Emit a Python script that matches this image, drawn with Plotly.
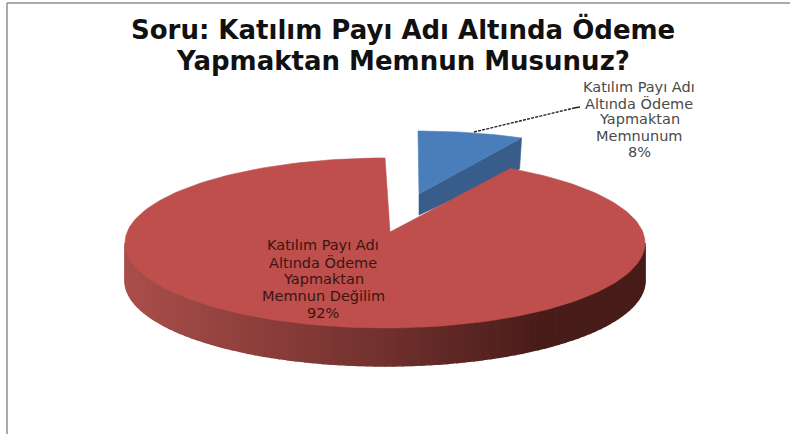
import math
import plotly.graph_objects as go

title_lines = ["Soru: Katılım Payı Adı Altında Ödeme", "Yapmaktan Memnun Musunuz?"]
categories = ["Katılım Payı Adı Altında Ödeme Yapmaktan Memnunum",
              "Katılım Payı Adı Altında Ödeme Yapmaktan Memnun Değilim"]
values = [8, 92]
label_lines_a = ["Katılım Payı Adı", "Altında Ödeme", "Yapmaktan", "Memnunum"]
label_lines_b = ["Katılım Payı Adı", "Altında Ödeme", "Yapmaktan", "Memnun Değilim"]

total = sum(values)
split = 360.0 * values[0] / total

W, H = 790, 434
fig = go.Figure()


def arc(cx, cy, rx, ry, a0, a1, n=160, dy=0):
    pts = []
    for i in range(n + 1):
        t = math.radians(a0 + (a1 - a0) * i / n)
        pts.append((cx + rx * math.sin(t), cy - ry * math.cos(t) + dy))
    return pts


def poly(pts, color, lw=0.6):
    fig.add_trace(go.Scatter(
        x=[p[0] for p in pts] + [pts[0][0]], y=[p[1] for p in pts] + [pts[0][1]],
        mode="lines", fill="toself", fillcolor=color,
        line=dict(color=color, width=lw), hoverinfo="skip", showlegend=False))


def mix(c0, c1, f):
    return "rgb(%d,%d,%d)" % tuple(round(a + (b - a) * f) for a, b in zip(c0, c1))


# small slice
B = dict(cx=418, cy=187, rx=215, ry=56)
B_apex = (419, 194)
B_depth = 31
B_end = arc(**B, a0=split, a1=split, n=1)[0]
poly([B_apex, B_end, (B_end[0] - 2, B_end[1] + B_depth), (B_apex[0], B_apex[1] + 21)], "#385D8A")
poly([B_apex] + arc(**B, a0=0, a1=split, n=30), "#4A7EBB")

# big slice: outer wall with a horizontal shade
R = dict(cx=385, cy=243, rx=260, ry=85)
R_apex = (390, 232)
R_depth = 38
wall_dark = (72, 28, 25)
wall_mid = (112, 48, 45)
wall_light = (170, 78, 75)
steps = 90
for i in range(steps):
    a0 = 90 + 180 * i / steps
    a1 = 90 + 180 * (i + 1) / steps
    top = arc(**R, a0=a0, a1=a1, n=3)
    bot = arc(**R, a0=a1, a1=a0, n=3, dy=R_depth)
    f = (top[0][0] + top[-1][0]) / 2
    f = (f - R["cx"] + R["rx"]) / (2 * R["rx"])
    col = mix(wall_light, wall_mid, f / 0.5) if f < 0.5 else mix(wall_mid, wall_dark, min(1, (f - 0.5) / 0.3))
    poly(top + bot, col, lw=1.4)

poly([R_apex] + arc(**R, a0=split, a1=360, n=240), "#BE4F4C")

# leader line
fig.add_trace(go.Scatter(x=[474, 574], y=[132, 108], mode="lines",
                         line=dict(color="#222222", width=1.4, dash="3px,1.2px"),
                         hoverinfo="skip", showlegend=False))
fig.add_trace(go.Scatter(x=[574, 580], y=[108, 107], mode="lines",
                         line=dict(color="#222222", width=1.6),
                         hoverinfo="skip", showlegend=False))


def text(x, y, s, size, color, family, weight="normal"):
    fig.add_annotation(x=x, y=y, text=s, showarrow=False, xanchor="center", yanchor="middle",
                       font=dict(family=family, size=size, color=color, weight=weight))


for i, s in enumerate(title_lines):
    text(403, 29 + 32 * i, s, 26, "#111111", "DejaVu Sans", "bold")

pct_a = f"{round(100 * values[0] / total)}%"
pct_b = f"{round(100 * values[1] / total)}%"
for i, s in enumerate(label_lines_a + [pct_a]):
    text(639, 87 + 16.2 * i, s, 14.5, "#4a4a4a", "DejaVu Sans")
for i, s in enumerate(label_lines_b + [pct_b]):
    text(323, 245 + 17 * i, s, 14.5, "#3a1512", "DejaVu Sans")

# chart frame
frame = "#8f8f8f"
fig.add_shape(type="line", x0=7, x1=7, y0=3, y1=H, line=dict(color=frame, width=1.5))
fig.add_shape(type="line", x0=7, x1=W, y0=3, y1=3, line=dict(color=frame, width=1.5))

fig.update_layout(
    width=W, height=H, margin=dict(l=0, r=0, t=0, b=0),
    paper_bgcolor="white", plot_bgcolor="white", showlegend=False,
    xaxis=dict(range=[0, W], visible=False, fixedrange=True),
    yaxis=dict(range=[H, 0], visible=False, fixedrange=True),
)
fig.write_html("out.html", config=dict(displayModeBar=False),
               post_script="document.body.style.margin='0';document.documentElement.style.overflow='hidden';")
